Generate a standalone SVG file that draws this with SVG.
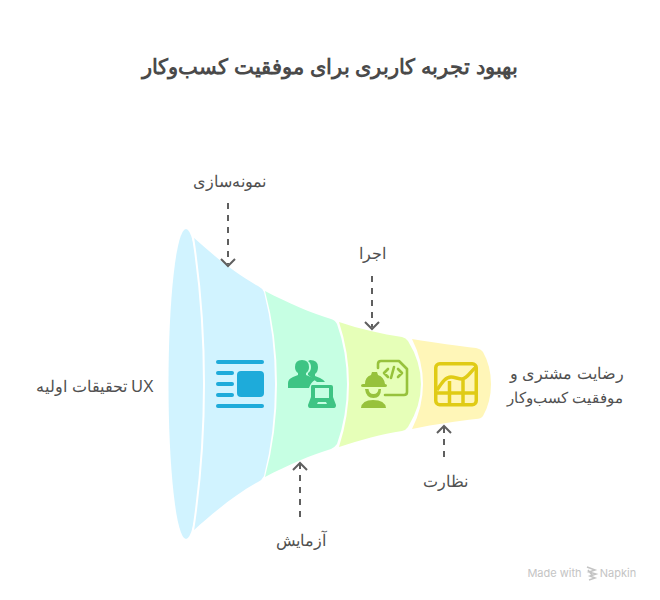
<svg xmlns="http://www.w3.org/2000/svg" width="660" height="600" viewBox="0 0 660 600">
<style>
text{font-family:"Liberation Sans",sans-serif;fill:#505050;font-size:16px;text-anchor:middle;direction:rtl}
.t{font-size:20.600px;font-weight:bold;fill:#4a4a4a}
.m{font-family:Inter,sans-serif;font-size:11px;fill:#c4c4c4;direction:ltr}
.c{fill:none;stroke:#5f5f5f;stroke-width:2}
.d{stroke-dasharray:6 6}
.w{fill:none;stroke:#fff;stroke-width:2}
</style>
<rect width="660" height="600" fill="#fff"/>
<text class="t" x="330" y="74">بهبود تجربه کاربری برای موفقیت کسب‌وکار</text>
<g id="node-prototype">
<ellipse cx="186" cy="384" rx="17.500" ry="155" fill="#d1f3ff"/>
<path d="M193 237C216 258 238 275 258 286Q262 288 264 292Q275 335 275 384Q275 433 264 476Q262 480 258 482C238 493 216 510 193 531Q204 460 204 384Q204 308 193 237Z" fill="#d1f3ff"/>
<path class="w" d="M193 237Q204 308 204 384Q204 460 193 531"/>
<g fill="#1eabda"><rect x="216" y="360" width="48" height="4" rx="2"/><rect x="216" y="371" width="18" height="4" rx="2"/><rect x="216" y="382" width="18" height="4" rx="2"/><rect x="216" y="393" width="18" height="4" rx="2"/><rect x="216" y="404" width="48" height="4" rx="2"/><rect x="237" y="371" width="27" height="26" rx="4"/></g>
<text x="229" y="187">نمونه‌سازی</text>
</g>
<g id="node-test">
<path d="M265 291C288 303 311 313 331 319Q335 320 337 324Q347 352 347 384Q347 416 337 444Q335 447 331 449C311 455 288 465 265 477Q277 433 277 384Q277 335 265 291Z" fill="#c6ffe3"/>
<g fill="#3ec484"><path d="M288 388V383Q288 379 293 377L298 375V373Q295 371 295 367Q295 360 302 360Q309 360 309 367Q309 371 306 373V375L311 377Q314 378 315 380Q311 382 309 388Z"/><path d="M310 360Q318 360 318 367Q318 372 315 374V376L320 378Q324 380 325 382H317L308 375V373Q311 371 311 367Q311 363 308 361Z"/><path fill-rule="evenodd" d="M312 385Q311 385 311 387V397L308 405Q308 408 310 408H334Q336 408 336 405L333 397V387Q333 385 331 385ZM315 388H329V398H315ZM318 402H326L327 404H317Z"/></g>
<text x="301" y="546">آزمایش</text>
</g>
<g id="node-implement">
<path d="M339 322C360 329 382 334 402 337Q406 338 408 341Q421 362 421 384Q421 406 408 427Q406 430 402 431C382 434 360 440 339 447Q349 416 349 384Q349 352 339 322Z" fill="#e6ffb8"/>
<g fill="#97c23c"><path d="M361 385.500Q361 384 363 384H365Q365 377 371 375L372 372H377L378 375Q384 377 385 384H385Q387 384 387 385.500Q387 387 385 387H363Q361 387 361 385.500Z"/><path d="M365 389H368.500Q369 394 373.500 394Q378 394 378.500 389H381Q381 398 373.500 398Q366 398 365 389Z"/><path d="M361 408Q362 400 373 400Q385 400 386 408Z"/></g>
<g fill="none" stroke="#97c23c" stroke-width="2.600" stroke-linecap="round" stroke-linejoin="round"><path d="M378 368V364Q378 361 381 361H399L407 369V392Q407 395 404 395H385"/><path d="M388 369L384 373L388 377M398 369L402 373L398 377M394 367L391 378"/></g>
<text x="372" y="259">اجرا</text>
</g>
<g id="node-monitor">
<path d="M412 339C436 343 458 346 476 348Q481 349 483 352Q491 366 491 384Q491 402 483 416Q481 419 476 419C458 421 436 424 412 429Q423 407 423 384Q423 361 412 339Z" fill="#fff6b8"/>
<g fill="none" stroke="#e0cb15" stroke-width="3.500" stroke-linejoin="round"><rect x="435.750" y="363.750" width="40.500" height="41" rx="4"/><path d="M437 393H475M449.500 381V404M463 379V404M437 390C443 381 446 377 451 377C455 377 458 379 462 379C467 379 470 372 476 367"/></g>
<text x="445" y="487">نظارت</text>
</g>
<g id="node-ux"><text x="95" y="392">UX تحقیقات اولیه</text></g>
<g id="node-result"><text x="567" y="379" style="letter-spacing:.8px">رضایت مشتری و</text><text x="565" y="403" style="font-size:15px">موفقیت کسب‌وکار</text></g>
<g id="connectors">
<path class="c d" d="M228 203V264"/><path class="c" d="M221 259L228 266L235 259"/>
<path class="c d" d="M372 276V327"/><path class="c" d="M365 322L372 329L379 322"/>
<path class="c d" d="M300 517V464"/><path class="c" d="M293 470L300 463L307 470"/>
<path class="c d" d="M444 457V427"/><path class="c" d="M437 433L444 426L451 433"/>
</g>
<g id="watermark">
<text class="m" x="554.500" y="577">Made with</text>
<path d="M587 567L595 570L589 572L596 574L590 576L595 578L589 580M588 570L592 575" fill="none" stroke="#c4c4c4" stroke-width="1.500"/>
<text class="m" x="618" y="577">Napkin</text>
</g>
</svg>
